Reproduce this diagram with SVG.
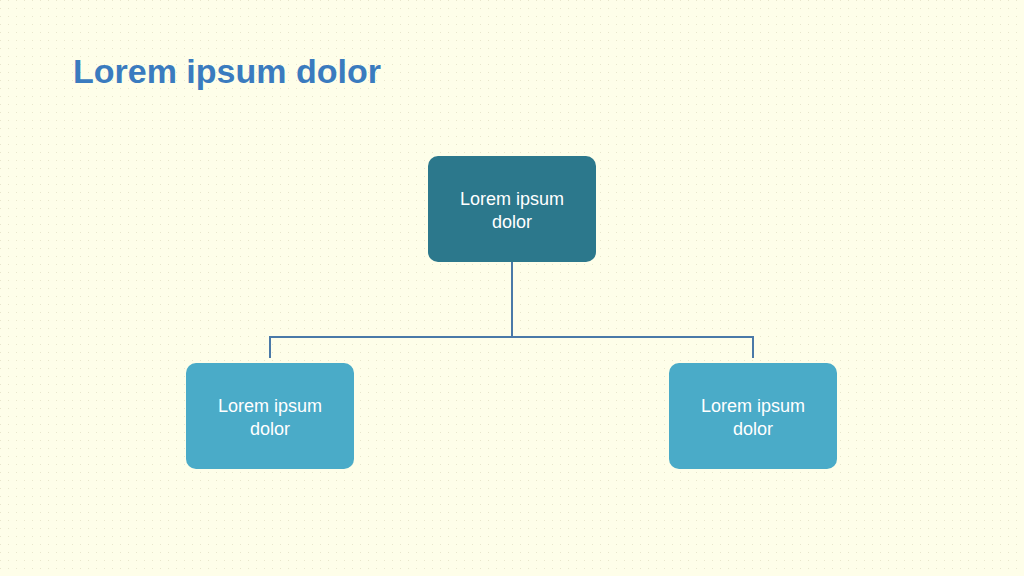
<svg xmlns="http://www.w3.org/2000/svg" width="1024" height="576" viewBox="0 0 1024 576">
<style>
.n{font-family:"Liberation Sans",Arial,sans-serif;font-size:18px;fill:#ffffff;text-anchor:middle}
.c{stroke:#4a79a8;stroke-width:2;fill:none}
</style>
<defs><pattern id="d" width="8" height="8" patternUnits="userSpaceOnUse"><rect x="0" y="0" width="1" height="1" fill="#e8e6cc"/></pattern></defs>
<rect width="1024" height="576" fill="#fefee9"/>
<rect width="1024" height="576" fill="url(#d)"/>
<text x="73" y="83" font-family="'Liberation Sans',Arial,sans-serif" font-size="34" font-weight="bold" fill="#3a7bbf">Lorem ipsum dolor</text>
<g id="connectors">
<path class="c" d="M512 262V337M270 358V337H753V358"/>
</g>
<g id="top"><rect x="428" y="156" width="168" height="106" rx="10" fill="#2c788c"/><text class="n" x="512" y="205">Lorem ipsum</text><text class="n" x="512" y="228">dolor</text></g>
<g id="left"><rect x="186" y="363" width="168" height="106" rx="10" fill="#4aabc8"/><text class="n" x="270" y="412">Lorem ipsum</text><text class="n" x="270" y="435">dolor</text></g>
<g id="right"><rect x="669" y="363" width="168" height="106" rx="10" fill="#4aabc8"/><text class="n" x="753" y="412">Lorem ipsum</text><text class="n" x="753" y="435">dolor</text></g>
</svg>
